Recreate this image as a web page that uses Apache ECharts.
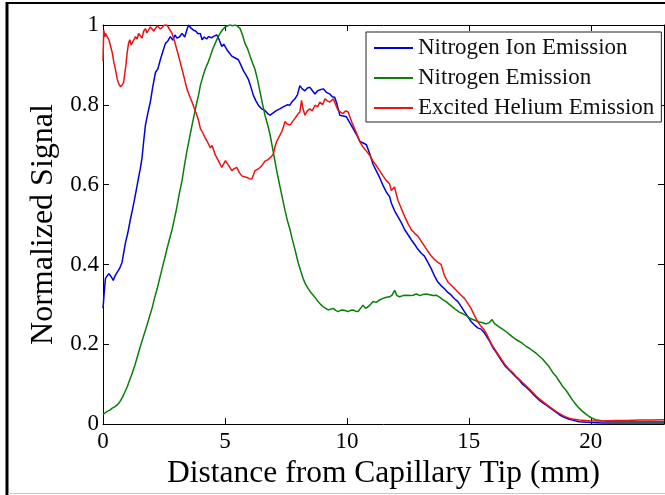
<!DOCTYPE html>
<html>
<head>
<meta charset="utf-8">
<script src="https://cdn.jsdelivr.net/npm/echarts@6/dist/echarts.min.js"></script>
<style>
  html, body { margin: 0; padding: 0; background: #ffffff; }
  #chart { width: 665px; height: 495px; }
</style>
</head>
<body>
<div id="chart"></div>
<script>
// Axis setup
const xTicks = [0, 5, 10, 15, 20];
const yTicks = [0, 0.2, 0.4, 0.6, 0.8, 1];
const seriesNames = ['Nitrogen Ion Emission', 'Nitrogen Emission', 'Excited Helium Emission'];

// Nitrogen ion emission profile (distance in mm, normalized signal)
const ionDist = [0.00,0.05,0.10,0.24,0.33,0.42,0.50,0.58,0.68,0.78,0.92,1.02,1.12,1.20,1.26,1.36,1.46,1.53,1.60,1.67,1.74,1.84,1.94,2.04,2.15,2.25,2.35,2.46,2.56,2.66,2.76,2.86,2.95,3.03,3.13,3.24,3.35,3.45,3.51,3.61,3.71,3.80,3.90,3.99,4.06,4.15,4.25,4.33,4.45,4.55,4.67,4.77,4.87,4.95,5.08,5.18,5.28,5.40,5.55,5.65,5.76,5.86,5.96,6.06,6.17,6.27,6.37,6.50,6.64,6.75,6.85,6.98,7.12,7.25,7.39,7.55,7.66,7.74,7.87,7.97,8.07,8.17,8.28,8.38,8.48,8.58,8.69,8.80,8.90,9.03,9.15,9.30,9.40,9.50,9.60,9.71,9.85,9.98,10.12,10.25,10.40,10.53,10.65,10.80,10.95,11.07,11.20,11.34,11.48,11.62,11.75,11.82,11.95,12.09,12.23,12.37,12.50,12.64,12.78,12.91,13.05,13.18,13.32,13.46,13.60,13.73,13.86,14.00,14.14,14.28,14.41,14.55,14.68,14.82,14.95,15.09,15.22,15.36,15.50,15.64,15.71,15.85,15.98,16.12,16.25,16.38,16.52,16.66,16.80,16.93,17.07,17.20,17.34,17.48,17.61,17.75,17.89,18.02,18.16,18.30,18.43,18.57,18.70,18.84,18.98,19.11,19.25,19.52,20.0,20.5,21.0,22.0,23.0];
const ionSignal = [0.29,0.33,0.365,0.377,0.37,0.36,0.372,0.38,0.39,0.405,0.454,0.48,0.512,0.535,0.553,0.585,0.618,0.64,0.667,0.71,0.749,0.78,0.807,0.845,0.881,0.89,0.913,0.935,0.954,0.96,0.971,0.962,0.975,0.967,0.97,0.979,0.97,0.99,1.0,0.992,0.987,0.985,0.978,0.979,0.963,0.97,0.965,0.971,0.968,0.972,0.975,0.962,0.946,0.952,0.938,0.93,0.922,0.918,0.913,0.9,0.885,0.875,0.864,0.845,0.823,0.81,0.799,0.79,0.786,0.778,0.774,0.78,0.786,0.79,0.795,0.8,0.799,0.807,0.815,0.825,0.848,0.84,0.835,0.842,0.844,0.836,0.827,0.835,0.838,0.84,0.832,0.827,0.82,0.819,0.8,0.774,0.772,0.77,0.755,0.741,0.725,0.708,0.705,0.7,0.675,0.651,0.635,0.618,0.598,0.581,0.57,0.554,0.535,0.52,0.505,0.487,0.475,0.462,0.45,0.438,0.428,0.421,0.405,0.389,0.37,0.356,0.347,0.339,0.33,0.323,0.314,0.307,0.295,0.282,0.27,0.257,0.249,0.241,0.238,0.228,0.225,0.208,0.192,0.18,0.167,0.155,0.143,0.135,0.126,0.118,0.11,0.1,0.093,0.085,0.077,0.068,0.06,0.054,0.048,0.042,0.036,0.03,0.024,0.019,0.015,0.012,0.01,0.006,0.004,0.003,0.003,0.003,0.003];

// Neutral nitrogen emission profile
const n2Dist = [0.00,0.08,0.17,0.28,0.38,0.48,0.58,0.68,0.78,0.88,0.99,1.09,1.19,1.30,1.40,1.50,1.60,1.70,1.81,1.91,2.01,2.11,2.22,2.32,2.42,2.52,2.62,2.72,2.83,2.93,3.03,3.13,3.24,3.34,3.44,3.55,3.65,3.75,3.85,3.92,3.99,4.09,4.19,4.30,4.40,4.50,4.60,4.70,4.80,4.90,5.01,5.11,5.21,5.31,5.42,5.52,5.62,5.72,5.82,5.93,6.03,6.13,6.23,6.34,6.44,6.54,6.64,6.75,6.85,6.95,7.05,7.15,7.26,7.36,7.46,7.56,7.67,7.74,7.80,7.90,8.00,8.10,8.21,8.31,8.42,8.52,8.62,8.72,8.82,8.92,9.03,9.13,9.23,9.33,9.44,9.54,9.64,9.74,9.84,9.95,10.05,10.15,10.25,10.35,10.46,10.56,10.66,10.76,10.87,10.97,11.07,11.20,11.34,11.48,11.62,11.75,11.85,11.96,12.05,12.16,12.30,12.45,12.60,12.71,12.85,13.00,13.12,13.25,13.40,13.53,13.66,13.80,13.93,14.07,14.20,14.34,14.48,14.62,14.75,14.89,15.02,15.16,15.30,15.43,15.57,15.71,15.85,15.95,16.05,16.12,16.25,16.38,16.52,16.66,16.80,16.93,17.07,17.20,17.34,17.48,17.61,17.75,17.89,18.02,18.16,18.30,18.43,18.57,18.70,18.84,18.98,19.11,19.25,19.39,19.52,19.66,19.80,19.93,20.07,20.20,20.50,21.0,21.5,22.0,22.5,23.0];
const n2Signal = [0.024,0.028,0.032,0.035,0.04,0.043,0.048,0.055,0.065,0.078,0.093,0.11,0.126,0.146,0.167,0.188,0.208,0.228,0.249,0.27,0.29,0.315,0.339,0.364,0.389,0.413,0.438,0.462,0.487,0.515,0.544,0.578,0.61,0.648,0.684,0.718,0.749,0.778,0.807,0.825,0.848,0.87,0.889,0.905,0.922,0.94,0.954,0.968,0.979,0.988,0.995,0.998,1.0,0.998,1.0,0.997,0.991,0.975,0.954,0.94,0.922,0.905,0.889,0.862,0.832,0.802,0.774,0.75,0.725,0.692,0.659,0.626,0.594,0.565,0.536,0.51,0.487,0.468,0.454,0.43,0.405,0.385,0.364,0.35,0.339,0.33,0.323,0.315,0.307,0.3,0.294,0.29,0.286,0.288,0.29,0.285,0.282,0.285,0.286,0.284,0.282,0.285,0.286,0.283,0.282,0.29,0.298,0.29,0.294,0.3,0.307,0.305,0.311,0.315,0.318,0.319,0.323,0.335,0.322,0.319,0.322,0.323,0.322,0.323,0.326,0.322,0.325,0.326,0.324,0.322,0.323,0.318,0.312,0.307,0.3,0.293,0.286,0.28,0.277,0.272,0.266,0.262,0.259,0.256,0.254,0.251,0.255,0.262,0.252,0.248,0.243,0.238,0.232,0.225,0.218,0.212,0.207,0.202,0.195,0.19,0.184,0.178,0.17,0.163,0.153,0.143,0.13,0.12,0.108,0.095,0.085,0.073,0.06,0.049,0.04,0.032,0.025,0.019,0.014,0.011,0.008,0.006,0.006,0.006,0.006,0.006];

// Excited helium emission profile
const heDist = [0.00,0.03,0.08,0.10,0.17,0.24,0.30,0.38,0.45,0.51,0.58,0.65,0.72,0.78,0.84,0.88,0.94,0.99,1.05,1.10,1.15,1.19,1.26,1.33,1.40,1.46,1.53,1.60,1.67,1.74,1.80,1.87,1.94,2.01,2.08,2.15,2.22,2.28,2.35,2.42,2.52,2.62,2.72,2.83,2.93,3.03,3.13,3.24,3.34,3.44,3.55,3.65,3.75,3.85,3.92,3.99,4.09,4.19,4.30,4.40,4.47,4.53,4.60,4.67,4.77,4.87,4.95,5.02,5.08,5.18,5.28,5.38,5.49,5.59,5.69,5.80,5.90,6.00,6.10,6.17,6.23,6.33,6.44,6.54,6.64,6.75,6.85,6.92,6.98,7.05,7.12,7.22,7.33,7.40,7.46,7.55,7.67,7.77,7.87,7.97,8.07,8.14,8.20,8.28,8.38,8.48,8.58,8.69,8.80,8.89,9.00,9.10,9.20,9.30,9.44,9.54,9.64,9.74,9.84,9.95,10.05,10.15,10.25,10.40,10.53,10.65,10.80,10.95,11.07,11.20,11.34,11.48,11.62,11.75,11.82,11.95,12.09,12.23,12.37,12.50,12.64,12.78,12.91,13.05,13.18,13.32,13.46,13.60,13.73,13.86,14.00,14.14,14.28,14.41,14.55,14.68,14.82,14.95,15.09,15.22,15.36,15.50,15.64,15.71,15.85,15.98,16.12,16.25,16.38,16.52,16.66,16.80,16.93,17.07,17.20,17.34,17.48,17.61,17.75,17.89,18.02,18.16,18.30,18.43,18.57,18.70,18.84,18.98,19.11,19.25,19.52,20.0,20.5,21.0,21.5,22.0,22.5,23.0];
const heSignal = [0.91,0.987,0.97,0.979,0.971,0.963,0.95,0.93,0.905,0.889,0.865,0.852,0.845,0.844,0.855,0.872,0.9,0.93,0.955,0.963,0.95,0.946,0.962,0.971,0.965,0.979,0.975,0.967,0.985,0.991,0.98,0.979,0.995,1.0,0.985,0.987,0.998,1.0,0.99,0.995,1.0,1.0,0.99,0.979,0.96,0.938,0.915,0.889,0.865,0.84,0.822,0.807,0.79,0.774,0.76,0.741,0.73,0.717,0.705,0.692,0.698,0.688,0.675,0.667,0.655,0.643,0.652,0.66,0.659,0.645,0.635,0.64,0.643,0.63,0.622,0.62,0.618,0.615,0.614,0.625,0.635,0.638,0.643,0.65,0.659,0.662,0.667,0.672,0.676,0.695,0.708,0.72,0.733,0.745,0.758,0.752,0.749,0.758,0.766,0.775,0.782,0.811,0.79,0.774,0.785,0.79,0.785,0.799,0.795,0.807,0.8,0.815,0.81,0.807,0.815,0.8,0.786,0.782,0.778,0.785,0.782,0.765,0.749,0.728,0.708,0.695,0.684,0.672,0.659,0.648,0.635,0.622,0.61,0.602,0.585,0.594,0.561,0.54,0.52,0.503,0.487,0.478,0.471,0.458,0.446,0.433,0.421,0.412,0.405,0.4,0.372,0.356,0.348,0.34,0.331,0.323,0.315,0.303,0.29,0.273,0.257,0.245,0.235,0.228,0.21,0.195,0.182,0.17,0.158,0.146,0.137,0.129,0.12,0.112,0.104,0.096,0.088,0.08,0.071,0.063,0.057,0.05,0.044,0.038,0.032,0.027,0.022,0.018,0.015,0.013,0.01,0.008,0.008,0.009,0.009,0.01,0.01,0.011];

const lineColors = ['#0000e0', '#0a7d0a', '#ec1212'];
const serif = 'Liberation Serif';

function pairs(xs, ys) {
  return xs.map((x, i) => [x, ys[i]]);
}

const chart = echarts.init(document.getElementById('chart'), null, { renderer: 'canvas' });

const tickStyle = { show: true, inside: true, length: 6, lineStyle: { color: '#000', width: 1 } };
const lineStyleAxis = { show: true, onZero: false, lineStyle: { color: '#000', width: 1 } };

chart.setOption({
  backgroundColor: '#ffffff',
  animation: false,
  textStyle: { fontFamily: serif },
  grid: { left: 103, right: 1, top: 25, bottom: 64, containLabel: false },
  legend: {
    orient: 'vertical',
    left: 366,
    top: 32,
    padding: [4, 7, 2, 8],
    icon: 'rect',
    itemWidth: 39,
    itemHeight: 2,
    itemGap: 6,
    backgroundColor: '#ffffff',
    borderColor: '#222',
    borderWidth: 1,
    borderRadius: 0,
    data: seriesNames,
    textStyle: { fontFamily: serif, fontSize: 23, color: '#111', lineHeight: 24 }
  },
  xAxis: [
    {
      type: 'value', position: 'bottom', min: 0, max: 23, interval: 5,
      name: 'Distance from Capillary Tip (mm)', nameLocation: 'middle', nameGap: 25,
      nameTextStyle: { fontFamily: serif, fontSize: 31.5, color: '#000' },
      axisLine: lineStyleAxis, axisTick: tickStyle,
      axisLabel: { fontFamily: serif, fontSize: 23, color: '#000', margin: 6, showMaxLabel: false,
        formatter: v => (xTicks.includes(v) ? String(v) : '') },
      splitLine: { show: false }
    },
    {
      type: 'value', position: 'top', min: 0, max: 23, interval: 5,
      axisLine: lineStyleAxis, axisTick: tickStyle, axisLabel: { show: false }, splitLine: { show: false }
    }
  ],
  yAxis: [
    {
      type: 'value', position: 'left', min: 0, max: 1, interval: 0.2,
      name: 'Normalized Signal', nameLocation: 'middle', nameGap: 37, nameRotate: 90,
      nameTextStyle: { fontFamily: serif, fontSize: 32, color: '#000' },
      axisLine: lineStyleAxis, axisTick: tickStyle,
      axisLabel: { fontFamily: serif, fontSize: 23, color: '#000', margin: 4,
        formatter: v => (yTicks.some(t => Math.abs(t - v) < 1e-9) ? String(+v.toFixed(1)) : '') },
      splitLine: { show: false }
    },
    {
      type: 'value', position: 'right', min: 0, max: 1, interval: 0.2,
      axisLine: lineStyleAxis, axisTick: tickStyle, axisLabel: { show: false }, splitLine: { show: false }
    }
  ],
  series: [
    { name: seriesNames[0], type: 'line', data: pairs(ionDist, ionSignal) },
    { name: seriesNames[1], type: 'line', data: pairs(n2Dist, n2Signal) },
    { name: seriesNames[2], type: 'line', data: pairs(heDist, heSignal) }
  ].map((s, i) => Object.assign(s, {
    xAxisIndex: 0, yAxisIndex: 0, symbol: 'none', showSymbol: false, smooth: false,
    color: lineColors[i], itemStyle: { color: lineColors[i] },
    lineStyle: { color: lineColors[i], width: 1.5 }, clip: true
  })),
  graphic: [
    // outer figure frame
    { type: 'line', silent: true, z: 100, shape: { x1: 7, y1: 2, x2: 7, y2: 495 }, style: { stroke: '#000', lineWidth: 3 } },
    { type: 'line', silent: true, z: 100, shape: { x1: 6, y1: 3, x2: 665, y2: 3 }, style: { stroke: '#000', lineWidth: 2 } },
    { type: 'line', silent: true, z: 100, shape: { x1: 8, y1: 493.5, x2: 665, y2: 493.5 }, style: { stroke: '#c8c8c8', lineWidth: 1 } }
  ]
});
</script>
</body>
</html>
